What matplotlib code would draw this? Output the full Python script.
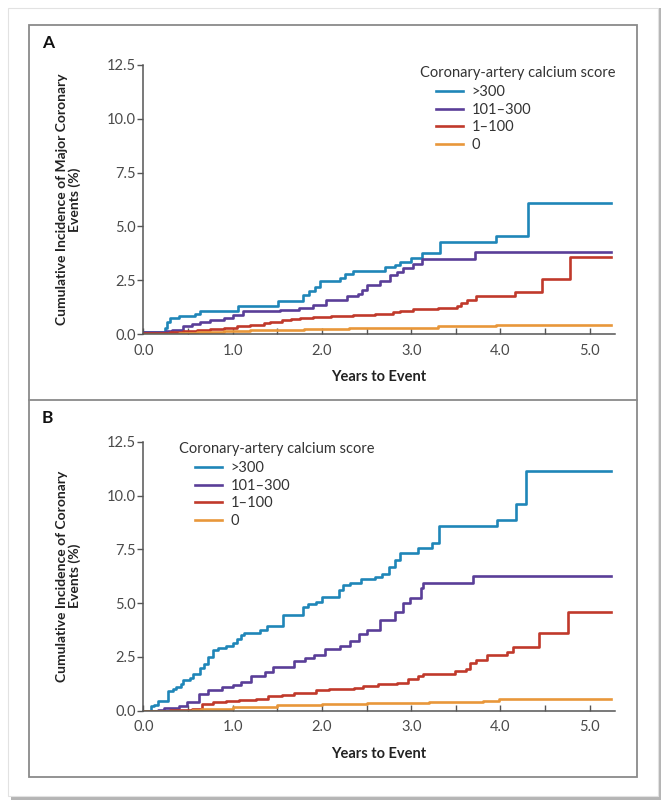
import matplotlib
matplotlib.use('Agg')
import matplotlib.pyplot as plt
from matplotlib.patches import Rectangle
from matplotlib.lines import Line2D

plt.rcParams['font.family'] = ['Lato', 'DejaVu Sans']

W, H = 672, 811

labels = ['>300', '101\u2013300', '1\u2013100', '0']
colors = ['#1f86b8', '#5a3e98', '#c0392b', '#e8973a']
legend_title = 'Coronary-artery calcium score'

# Panel A: major coronary events (years, cumulative %)
a_blue_t = [0, 0.24, 0.27, 0.30, 0.40, 0.58, 0.63, 1.06, 1.51, 1.79, 1.85, 1.92, 1.98, 2.20, 2.26,
            2.35, 2.71, 2.82, 2.88, 3.00, 3.12, 3.32, 3.95, 4.31, 5.24]
a_blue_v = [0.1, 0.3, 0.55, 0.75, 0.85, 0.95, 1.05, 1.3, 1.55, 1.8, 2.0, 2.2, 2.45, 2.6, 2.8,
            2.95, 3.1, 3.2, 3.35, 3.55, 3.75, 4.28, 4.57, 6.07, 6.07]
a_purple_t = [0, 0.25, 0.32, 0.45, 0.55, 0.63, 0.75, 0.90, 1.01, 1.12, 1.53, 1.74, 1.90, 2.05, 2.28,
              2.40, 2.45, 2.50, 2.65, 2.76, 2.84, 2.91, 3.02, 3.12, 3.71, 5.24]
a_purple_v = [0.1, 0.15, 0.2, 0.35, 0.45, 0.55, 0.65, 0.75, 0.9, 1.05, 1.1, 1.2, 1.35, 1.6, 1.75,
              1.85, 2.05, 2.3, 2.45, 2.75, 2.9, 3.05, 3.25, 3.5, 3.8, 3.8]
a_red_t = [0, 0.30, 0.45, 0.60, 0.75, 0.90, 1.05, 1.20, 1.35, 1.42, 1.55, 1.65, 1.76, 1.90, 2.10,
           2.35, 2.60, 2.80, 2.87, 3.02, 3.30, 3.51, 3.56, 3.62, 3.73, 4.16, 4.46, 4.78, 5.24]
a_red_v = [0.05, 0.08, 0.13, 0.18, 0.25, 0.3, 0.35, 0.42, 0.5, 0.57, 0.63, 0.7, 0.75, 0.8, 0.85,
           0.9, 0.95, 1.0, 1.07, 1.15, 1.2, 1.3, 1.45, 1.6, 1.75, 1.95, 2.57, 3.57, 3.57]
a_orange_t = [0, 0.4, 0.6, 0.9, 1.2, 1.8, 2.3, 3.3, 3.95, 5.24]
a_orange_v = [0.02, 0.05, 0.1, 0.15, 0.2, 0.25, 0.3, 0.35, 0.4, 0.42]

# Panel B: coronary events
b_blue_t = [0, 0.09, 0.12, 0.16, 0.28, 0.33, 0.37, 0.42, 0.45, 0.52, 0.56, 0.64, 0.68, 0.72, 0.78,
            0.84, 0.93, 1.00, 1.05, 1.09, 1.13, 1.31, 1.38, 1.57, 1.79, 1.84, 1.93, 2.00, 2.19,
            2.24, 2.32, 2.44, 2.60, 2.67, 2.75, 2.82, 2.87, 3.08, 3.23, 3.31, 3.96, 4.17, 4.29, 5.24]
b_blue_v = [0, 0.2, 0.25, 0.47, 0.9, 1.0, 1.1, 1.25, 1.43, 1.5, 1.7, 2.0, 2.15, 2.5, 2.8,
            2.9, 3.0, 3.15, 3.35, 3.5, 3.6, 3.75, 3.95, 4.45, 4.8, 4.95, 5.05, 5.3, 5.6,
            5.85, 5.95, 6.1, 6.2, 6.35, 6.7, 7.0, 7.33, 7.55, 7.8, 8.57, 8.85, 9.6, 11.15, 11.15]
b_purple_t = [0, 0.16, 0.23, 0.40, 0.49, 0.62, 0.73, 0.88, 1.00, 1.09, 1.21, 1.36, 1.45, 1.69, 1.81,
              1.91, 2.03, 2.20, 2.32, 2.41, 2.51, 2.65, 2.82, 2.91, 2.99, 3.11, 3.13, 3.69, 5.24]
b_purple_v = [0, 0.05, 0.12, 0.2, 0.4, 0.78, 0.95, 1.1, 1.2, 1.35, 1.6, 1.8, 2.02, 2.3, 2.45,
              2.6, 2.85, 3.0, 3.25, 3.55, 3.75, 4.2, 4.6, 5.0, 5.25, 5.7, 5.95, 6.26, 6.26]
b_red_t = [0, 0.30, 0.45, 0.55, 0.66, 0.78, 0.93, 1.07, 1.26, 1.40, 1.55, 1.69, 1.93, 2.08, 2.36,
           2.46, 2.63, 2.84, 2.96, 3.08, 3.13, 3.49, 3.61, 3.66, 3.73, 3.85, 4.07, 4.14, 4.43, 4.76, 5.24]
b_red_v = [0, 0.02, 0.05, 0.1, 0.3, 0.4, 0.45, 0.5, 0.55, 0.7, 0.75, 0.8, 0.95, 1.0, 1.05,
           1.15, 1.25, 1.3, 1.45, 1.6, 1.71, 1.85, 1.95, 2.2, 2.35, 2.59, 2.75, 2.95, 3.6, 4.6, 4.6]
b_orange_t = [0, 0.55, 0.65, 0.75, 1.0, 1.5, 2.0, 2.5, 3.2, 3.8, 3.98, 5.24]
b_orange_v = [0, 0.03, 0.07, 0.1, 0.15, 0.25, 0.3, 0.35, 0.4, 0.45, 0.55, 0.55]

y_ticks = [0, 2.5, 5.0, 7.5, 10.0, 12.5]
x_ticks = [0, 1, 2, 3, 4, 5]


def fx(px):
    return px / W


def fy(px):
    return 1 - px / H


fig = plt.figure(figsize=(W / 100, H / 100), dpi=100)
fig.patch.set_facecolor('white')

# card with shadow
fig.patches.append(Rectangle((fx(11), fy(800)), fx(650), 792 / H, transform=fig.transFigure,
                             facecolor='#b5b5b5', edgecolor='none', zorder=-3))
fig.patches.append(Rectangle((fx(8), fy(796)), fx(650), 788 / H, transform=fig.transFigure,
                             facecolor='white', edgecolor='#e2e2e2', lw=0.8, zorder=-2))
# panel frames
fig.patches.append(Rectangle((fx(29), fy(777)), fx(608), 752 / H, transform=fig.transFigure,
                             facecolor='none', edgecolor='#8a8a8a', lw=1.3, zorder=-1))
fig.add_artist(Line2D([fx(29), fx(637)], [fy(400), fy(400)], transform=fig.transFigure,
                      color='#8a8a8a', lw=1.3, zorder=-1))


def panel(bottom_px, series, ylabel, letter, letter_y, title_xy, leg_xy):
    ax = fig.add_axes([fx(143.3), fy(bottom_px), 471.5 / W, 269 / H])
    ax.set_zorder(5)
    ax.patch.set_alpha(0)
    for (t, v), c, lab in zip(series, colors, labels):
        ax.step(t, v, where='post', color=c, lw=1.9, label=lab)
    ax.set_xlim(0, 5.28)
    ax.set_ylim(0, 12.5)
    for s in ['top', 'right']:
        ax.spines[s].set_visible(False)
    for s in ['left', 'bottom']:
        ax.spines[s].set_color('#555555')
        ax.spines[s].set_linewidth(1.1)
    ax.set_yticks(y_ticks)
    ax.set_yticklabels(['%.1f' % v for v in y_ticks])
    ax.set_xticks(x_ticks)
    ax.set_xticklabels(['%.1f' % v for v in x_ticks])
    ax.set_xticks([0.5, 1.5, 2.5, 3.5, 4.5], minor=True)
    ax.tick_params(axis='y', direction='out', length=4, width=1, color='#555555',
                   labelsize=10.5, labelcolor='#4a4a4a', pad=1.5)
    ax.tick_params(axis='x', which='both', direction='in', length=4, width=1, color='#555555',
                   labelsize=10.5, labelcolor='#4a4a4a', pad=7)
    ax.set_xlabel('Years to Event', fontsize=10.5, fontweight='bold', color='#222222',
                  labelpad=9)
    ax.set_ylabel(ylabel, fontsize=10, fontweight='bold', color='#222222', linespacing=0.95)
    ax.yaxis.set_label_coords(-0.133, 0.5)
    fig.text(fx(42), fy(letter_y), letter, fontsize=12.5, fontweight='bold', color='#111111',
             va='center', ha='left')
    fig.text(fx(title_xy[0]), fy(title_xy[1]), legend_title, fontsize=10.5, color='#333333',
             va='center', ha='left')
    ax.legend(loc='upper left', bbox_to_anchor=(fx(leg_xy[0]), fy(leg_xy[1])),
              bbox_transform=fig.transFigure, frameon=False, fontsize=10.5,
              handlelength=1.85, handletextpad=0.6, labelspacing=0.25, borderpad=0,
              borderaxespad=0, labelcolor='#333333')
    return ax


panel(334, [(a_blue_t, a_blue_v), (a_purple_t, a_purple_v), (a_red_t, a_red_v),
            (a_orange_t, a_orange_v)],
      'Cumulative Incidence of Major Coronary\nEvents (%)', 'A', 43, (420, 73), (436, 85))
panel(710.7, [(b_blue_t, b_blue_v), (b_purple_t, b_purple_v), (b_red_t, b_red_v),
              (b_orange_t, b_orange_v)],
      'Cumulative Incidence of Coronary\nEvents (%)', 'B', 418, (179, 449), (195, 461))

fig.savefig('out.png', dpi=100)
